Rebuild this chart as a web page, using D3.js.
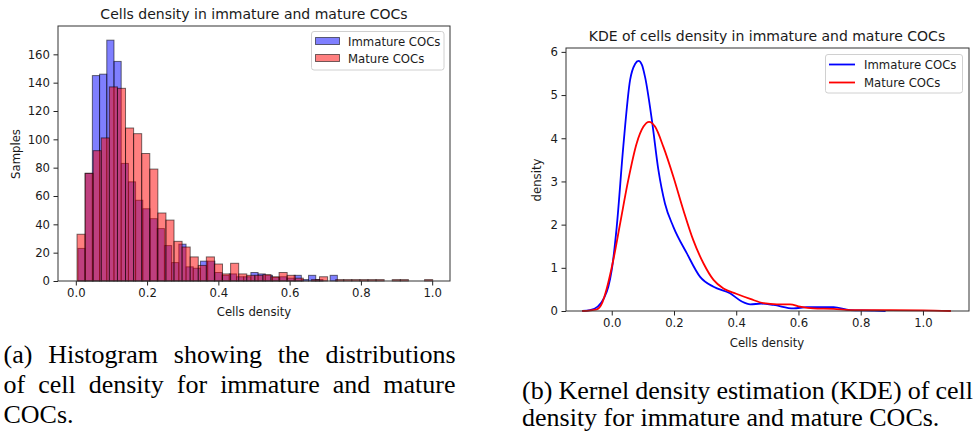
<!DOCTYPE html>
<html>
<head>
<meta charset="utf-8">
<script src="https://cdn.jsdelivr.net/npm/d3@7"></script>
<style>
  body { margin: 0; background: #fff; }
  svg { display: block; }
  .tick text { font-family: "DejaVu Sans", sans-serif; font-size: 11.7px; fill: #1a1a1a; }
  .tick line { stroke: #222; }
  .domain { display: none; }
</style>
</head>
<body>
<svg id="fig" width="977" height="434"></svg>
<script>
// histogram counts
const immatureStart = 0.006, immatureBinWidth = 0.02022;
const immatureCounts = [23, 76, 145, 146, 170, 155, 83, 70, 57, 51, 44, 37, 25, 13, 26, 10, 9, 14,
                        14, 6, 4, 5, 3, 3, 6, 5, 4, 2.5, 3, 2, 4, 1, 4, 1, 0, 4];
const matureStart = 0.0034, matureBinWidth = 0.02268;
const matureCounts = [33, 76, 92, 101, 137, 136, 108, 104, 90, 79, 48, 43, 28, 24, 17, 11, 17, 12,
                      5, 12.5, 5, 4, 4, 4.5, 3, 6, 4, 2, 0, 1, 3, 0, 1, 1, 1, 1, 1, 1, 0, 1, 1, 0, 0, 1];
const histXTicks = [0, 0.2, 0.4, 0.6, 0.8, 1.0];
const histYTicks = [0, 20, 40, 60, 80, 100, 120, 140, 160];

// KDE curves
const immatureKdeX = [-0.095, -0.07, -0.045, -0.025, -0.011, 0.0, 0.016, 0.037, 0.059, 0.075, 0.086, 0.097,
                      0.107, 0.129, 0.150, 0.171, 0.198, 0.241, 0.284, 0.327, 0.38, 0.418, 0.445, 0.48,
                      0.52, 0.584, 0.627, 0.713, 0.766, 0.843, 0.88];
const immatureKdeY = [0, 0.02, 0.1, 0.3, 0.56, 0.95, 1.95, 3.8, 5.35, 5.72, 5.79, 5.7,
                      5.42, 4.42, 3.26, 2.49, 1.95, 1.34, 0.79, 0.56, 0.41, 0.22, 0.155, 0.17,
                      0.14, 0.06, 0.09, 0.09, 0.02, 0.01, 0];
const matureKdeX = [-0.095, -0.048, -0.03, -0.016, 0.005, 0.027, 0.053, 0.080, 0.102, 0.12, 0.139, 0.166,
                    0.198, 0.23, 0.262, 0.295, 0.327, 0.359, 0.40, 0.445, 0.488, 0.531, 0.573, 0.605,
                    0.648, 0.713, 0.766, 0.895, 1.0, 1.09];
const matureKdeY = [0, 0.04, 0.2, 0.52, 1.18, 2.03, 3.03, 3.88, 4.27, 4.38, 4.27, 3.80,
                    3.11, 2.34, 1.64, 1.10, 0.72, 0.52, 0.40, 0.28, 0.18, 0.155, 0.155, 0.10,
                    0.06, 0.05, 0.02, 0.02, 0.015, 0];
const kdeXTicks = [0, 0.2, 0.4, 0.6, 0.8, 1.0];
const kdeYTicks = [0, 1, 2, 3, 4, 5, 6];

const seriesNames = ["Immature COCs", "Mature COCs"];

const svg = d3.select("#fig");
const font = "DejaVu Sans, sans-serif";

// ---------- (a) histogram ----------
const hx = d3.scaleLinear().domain([-0.05, 1.05]).range([58, 450]);
const hy = d3.scaleLinear().domain([0, 180]).range([281, 26]);

const hist = svg.append("g");

function drawBars(counts, start, w, color) {
    hist.append("g").selectAll("rect")
        .data(counts.map((c, i) => ({ c: c, x0: start + i * w })).filter(d => d.c > 0))
        .enter()
            .append("rect")
            .attr("x", d => hx(d.x0))
            .attr("width", hx(w) - hx(0))
            .attr("y", d => hy(d.c))
            .attr("height", d => hy(0) - hy(d.c))
            .attr("fill", color)
            .attr("fill-opacity", 0.5)
            .attr("stroke", "#000")
            .attr("stroke-opacity", 0.55)
            .attr("stroke-width", 1);
}
drawBars(immatureCounts, immatureStart, immatureBinWidth, "#0000ff");
drawBars(matureCounts, matureStart, matureBinWidth, "#ff0000");

hist.append("g").attr("transform", "translate(0,281)")
    .call(d3.axisBottom(hx).tickValues(histXTicks).tickFormat(d3.format(".1f")).tickSize(4.5).tickPadding(3.5));
hist.append("g").attr("transform", "translate(58,0)")
    .call(d3.axisLeft(hy).tickValues(histYTicks).tickSize(4.5).tickPadding(3.5));

hist.append("rect").attr("x", 58).attr("y", 26).attr("width", 392).attr("height", 255)
    .attr("fill", "none").attr("stroke", "#333").attr("stroke-width", 1);

hist.append("text").attr("x", 254).attr("y", 19).attr("text-anchor", "middle")
    .attr("font-family", font).attr("font-size", 14).attr("fill", "#1a1a1a")
    .text("Cells density in immature and mature COCs");
hist.append("text").attr("x", 254).attr("y", 316).attr("text-anchor", "middle")
    .attr("font-family", font).attr("font-size", 11.7).attr("fill", "#1a1a1a")
    .text("Cells density");
hist.append("text").attr("transform", "translate(20,154) rotate(-90)").attr("text-anchor", "middle")
    .attr("font-family", font).attr("font-size", 11.7).attr("fill", "#1a1a1a")
    .text("Samples");

// legend
const hl = hist.append("g");
hl.append("rect").attr("x", 311.5).attr("y", 31.5).attr("width", 132.5).attr("height", 38.5).attr("rx", 2.5)
    .attr("fill", "#fff").attr("fill-opacity", 0.8).attr("stroke", "#d0d0d0");
["#0000ff", "#ff0000"].forEach((c, i) => {
    hl.append("rect").attr("x", 315.5).attr("y", 37.5 + i * 17).attr("width", 24).attr("height", 7)
        .attr("fill", c).attr("fill-opacity", 0.5).attr("stroke", "#000").attr("stroke-opacity", 0.55);
    hl.append("text").attr("x", 348).attr("y", 45.5 + i * 17)
        .attr("font-family", font).attr("font-size", 11.7).attr("fill", "#1a1a1a")
        .text(seriesNames[i]);
});

// ---------- (b) KDE ----------
const kx = d3.scaleLinear().domain([-0.147, 1.148]).range([566, 969]);
const ky = d3.scaleLinear().domain([0, 6.09]).range([311, 48]);

const kde = svg.append("g");
const line = d3.line().x(d => kx(d[0])).y(d => ky(d[1])).curve(d3.curveMonotoneX);

kde.append("path").datum(immatureKdeX.map((v, i) => [v, immatureKdeY[i]]))
    .attr("d", line).attr("fill", "none").attr("stroke", "#0000ff").attr("stroke-width", 1.8);
kde.append("path").datum(matureKdeX.map((v, i) => [v, matureKdeY[i]]))
    .attr("d", line).attr("fill", "none").attr("stroke", "#ff0000").attr("stroke-width", 1.8);

kde.append("g").attr("transform", "translate(0,311)")
    .call(d3.axisBottom(kx).tickValues(kdeXTicks).tickFormat(d3.format(".1f")).tickSize(4.5).tickPadding(3.5));
kde.append("g").attr("transform", "translate(566,0)")
    .call(d3.axisLeft(ky).tickValues(kdeYTicks).tickFormat(d3.format("d")).tickSize(4.5).tickPadding(3.5));

kde.append("rect").attr("x", 566).attr("y", 48).attr("width", 403).attr("height", 263)
    .attr("fill", "none").attr("stroke", "#333").attr("stroke-width", 1);

kde.append("text").attr("x", 767).attr("y", 41).attr("text-anchor", "middle")
    .attr("font-family", font).attr("font-size", 14).attr("fill", "#1a1a1a")
    .text("KDE of cells density in immature and mature COCs");
kde.append("text").attr("x", 767).attr("y", 347).attr("text-anchor", "middle")
    .attr("font-family", font).attr("font-size", 11.7).attr("fill", "#1a1a1a")
    .text("Cells density");
kde.append("text").attr("transform", "translate(541,180) rotate(-90)").attr("text-anchor", "middle")
    .attr("font-family", font).attr("font-size", 11.7).attr("fill", "#1a1a1a")
    .text("density");

const kl = kde.append("g");
kl.append("rect").attr("x", 825.5).attr("y", 54.5).attr("width", 137).attr("height", 38.5).attr("rx", 2.5)
    .attr("fill", "#fff").attr("fill-opacity", 0.8).attr("stroke", "#d0d0d0");
["#0000ff", "#ff0000"].forEach((c, i) => {
    kl.append("line").attr("x1", 829).attr("x2", 855).attr("y1", 64.5 + i * 18).attr("y2", 64.5 + i * 18)
        .attr("stroke", c).attr("stroke-width", 1.8);
    kl.append("text").attr("x", 864).attr("y", 68.7 + i * 18)
        .attr("font-family", font).attr("font-size", 11.7).attr("fill", "#1a1a1a")
        .text(seriesNames[i]);
});

// ---------- captions ----------
function caption(str, x, y, justifyTo) {
    const t = svg.append("text").attr("x", x).attr("y", y)
        .attr("font-family", "Liberation Serif, serif").attr("font-size", 26).attr("fill", "#000")
        .text(str);
    if (justifyTo) {
        const natural = t.node().getComputedTextLength();
        const gaps = str.split(" ").length - 1;
        t.attr("word-spacing", (justifyTo - natural) / gaps);
    }
}
caption("(a) Histogram showing the distributions", 3.5, 363, 452);
caption("of cell density for immature and mature", 3.5, 393, 452);
caption("COCs.", 3.5, 423);
caption("(b) Kernel density estimation (KDE) of cell", 522, 399, 451);
caption("density for immature and mature COCs.", 522, 426);
</script>
</body>
</html>
